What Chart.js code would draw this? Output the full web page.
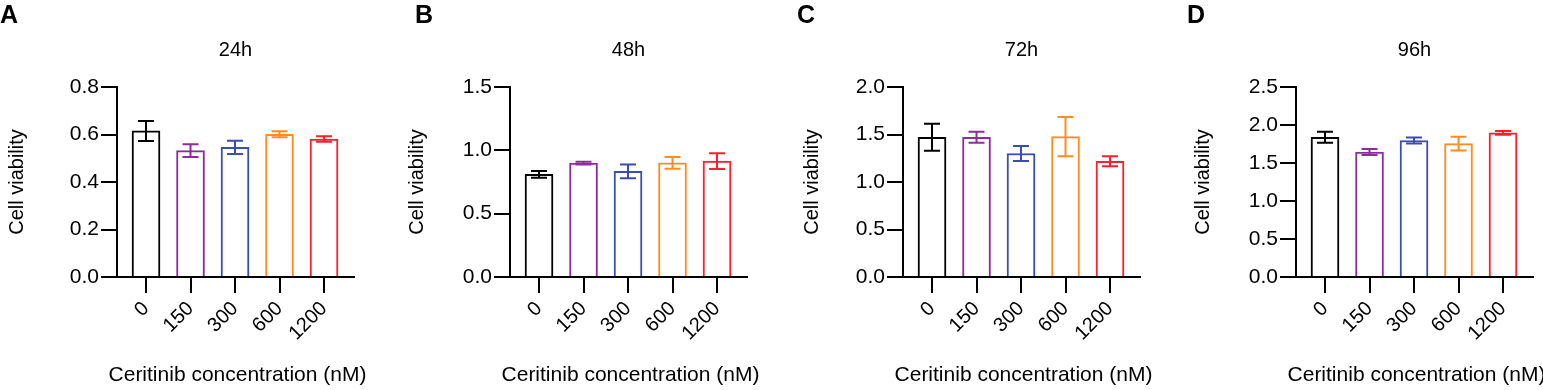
<!DOCTYPE html>
<html>
<head>
<meta charset="utf-8">
<script src="https://cdn.jsdelivr.net/npm/chart.js@4.4.0/dist/chart.umd.min.js"></script>
<style>
    body { margin: 0; background: #fff; width: 1543px; height: 390px; overflow: hidden; position: relative; font-family: "Liberation Sans", Arial, sans-serif; }
    canvas { position: absolute; top: 0; }
    .letter { position: absolute; top: 2px; font-weight: bold; font-size: 25px; line-height: 25px; color: #000; }
</style>
</head>
<body>
<script>
// Dados de viabilidade celular (média ± erro) por tempo de tratamento
const concentrations = ['0', '150', '300', '600', '1200'];
const barColors = ['#000000', '#8E2C9E', '#3A4DB5', '#FF8C1F', '#FF1F2E'];
const timePoints = ['24h', '48h', '72h', '96h'];
const panelLetters = ['A', 'B', 'C', 'D'];
const xTitle = 'Ceritinib concentration (nM)';
const yTitle = 'Cell viability';

const means24 = [0.615, 0.532, 0.546, 0.601, 0.581];
const errs24 = [0.042, 0.027, 0.028, 0.013, 0.012];
const means48 = [0.810, 0.899, 0.834, 0.901, 0.915];
const errs48 = [0.026, 0.010, 0.055, 0.047, 0.062];
const means72 = [1.470, 1.470, 1.300, 1.477, 1.218];
const errs72 = [0.142, 0.058, 0.080, 0.207, 0.053];
const means96 = [1.838, 1.645, 1.796, 1.755, 1.897];
const errs96 = [0.072, 0.040, 0.040, 0.090, 0.025];

const yMax = [0.8, 1.5, 2.0, 2.5];
const yStep = [0.2, 0.5, 0.5, 0.5];

// layout dos painéis
const canvasLeft = [0, 393, 786, 1179];
const canvasWidth = [393, 393, 393, 364];
const padRight = [39, 39, 39, 10];
const letterLeft = [0, 415, 797, 1187];
const yTitlePad = [5, 12, 14, 12];

const FONT = '"Liberation Sans", Arial, sans-serif';
Chart.defaults.font.family = FONT;
Chart.defaults.color = '#000';

// barras de erro + título do eixo x (o título nativo é comprimido pelo maxWidth)
function panelPlugin(means, errs) {
    return {
        id: 'errorBars',
        afterDatasetsDraw(chart) {
            const ctx = chart.ctx;
            const ys = chart.scales.y;
            const meta = chart.getDatasetMeta(0);
            ctx.save();
            ctx.lineWidth = 2;
            meta.data.forEach((bar, i) => {
                const x = bar.x;
                const yTop = ys.getPixelForValue(means[i] + errs[i]);
                const yBot = ys.getPixelForValue(means[i] - errs[i]);
                ctx.strokeStyle = barColors[i];
                ctx.beginPath();
                ctx.moveTo(x, yTop); ctx.lineTo(x, yBot);
                ctx.moveTo(x - 8, yTop); ctx.lineTo(x + 8, yTop);
                ctx.moveTo(x - 8, yBot); ctx.lineTo(x + 8, yBot);
                ctx.stroke();
            });
            ctx.restore();
        },
        afterDraw(chart) {
            const ctx = chart.ctx;
            const xs = chart.scales.x;
            ctx.save();
            ctx.fillStyle = '#000';
            ctx.font = '21px ' + FONT;
            ctx.textAlign = 'center';
            ctx.textBaseline = 'middle';
            ctx.fillText(xTitle, (xs.left + xs.right) / 2 + 2, 375);
            ctx.restore();
        }
    };
}

function makePanel(k, means, errs) {
    const canvas = document.createElement('canvas');
    canvas.width = canvasWidth[k];
    canvas.height = 390;
    canvas.style.left = canvasLeft[k] + 'px';
    document.body.appendChild(canvas);

    const letter = document.createElement('div');
    letter.className = 'letter';
    letter.style.left = letterLeft[k] + 'px';
    letter.textContent = panelLetters[k];
    document.body.appendChild(letter);

    const axisBorder = { display: true, color: '#000', width: 2 };

    new Chart(canvas, {
        type: 'bar',
        data: {
            datasets: [{
                data: means.map((v, i) => ({ x: i, y: v })),
                backgroundColor: '#ffffff',
                borderColor: barColors,
                borderWidth: 2,
                barThickness: 28
            }]
        },
        options: {
            responsive: false,
            animation: false,
            devicePixelRatio: 1,
            layout: { padding: { left: 0, right: padRight[k], top: 0, bottom: 0 } },
            plugins: {
                legend: { display: false },
                tooltip: { enabled: false },
                title: {
                    display: true,
                    fullSize: false,
                    text: timePoints[k],
                    color: '#000',
                    font: { size: 20, weight: 'normal' },
                    padding: { top: 38, bottom: 25 }
                }
            },
            scales: {
                x: {
                    type: 'linear',
                    offset: false,
                    min: -0.652,
                    max: 4.674,
                    afterBuildTicks: s => { s.ticks = concentrations.map((c, i) => ({ value: i })); },
                    afterFit: s => { s.height = 113; },
                    ticks: {
                        callback: v => concentrations[v],
                        minRotation: 45,
                        maxRotation: 45,
                        autoSkip: false,
                        padding: 4,
                        color: '#000',
                        font: { size: 20 }
                    },
                    grid: { offset: false, drawOnChartArea: false, drawTicks: true, tickLength: 16, color: '#000', lineWidth: 2 },
                    border: axisBorder
                },
                y: {
                    min: 0,
                    max: yMax[k],
                    afterFit: s => { s.width = 117; },
                    ticks: {
                        stepSize: yStep[k],
                        callback: v => Number(v).toFixed(1),
                        padding: 2,
                        color: '#000',
                        font: { size: 21 }
                    },
                    grid: { drawOnChartArea: false, drawTicks: true, tickLength: 16, color: '#000', lineWidth: 2 },
                    border: axisBorder,
                    title: {
                        display: true,
                        text: yTitle,
                        color: '#000',
                        font: { size: 20 },
                        padding: { top: yTitlePad[k], bottom: 0 }
                    }
                }
            }
        },
        plugins: [panelPlugin(means, errs)]
    });
}

makePanel(0, means24, errs24);
makePanel(1, means48, errs48);
makePanel(2, means72, errs72);
makePanel(3, means96, errs96);
</script>
</body>
</html>
